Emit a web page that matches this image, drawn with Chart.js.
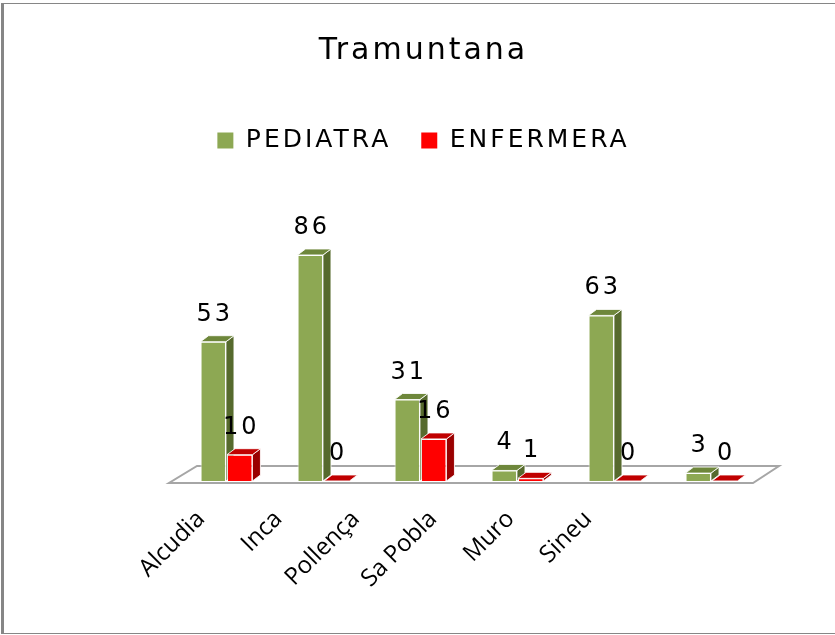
<!DOCTYPE html>
<html>
<head>
<meta charset="utf-8">
<script src="https://cdn.jsdelivr.net/npm/chart.js@4.4.0/dist/chart.umd.min.js"></script>
<style>
  html, body { margin: 0; padding: 0; background: #fff; }
  #wrap { position: relative; width: 835px; height: 635px; overflow: hidden; }
  #frame { position: absolute; left: 1px; top: 3px; width: 840px; height: 629px;
           border-left: 3px solid #868686; border-top: 1px solid #868686; border-bottom: 1px solid #868686;
           pointer-events: none; }
  canvas { position: absolute; left: 0; top: 0; }
</style>
</head>
<body>
<div id="wrap">
  <canvas id="chart" width="835" height="635"></canvas>
  <div id="frame"></div>
</div>
<script>
// data
const categories = ["Alcudia", "Inca", "Pollença", "Sa Pobla", "Muro", "Sineu"];
const pediatra = [53, 86, 31, 4, 63, 3];
const enfermera = [10, 0, 16, 1, 0, 0];
const seriesNames = ["PEDIATRA", "ENFERMERA"];

// look
const faces = [
  { front: "#8da853", top: "#6e873b", side: "#566a2d" },
  { front: "#ff0000", top: "#c00000", side: "#9a0000" },
];
const edgeColor = "rgba(255,255,255,0.85)";
const depth = { dx: 8, dy: -6 };
const textSpacing = "3px";

// floor + 3d faces + value labels
const bars3d = {
  id: "bars3d",
  beforeLayout(chart) {
    chart.ctx.letterSpacing = textSpacing;
  },
  beforeDraw(chart) {
    chart.ctx.letterSpacing = textSpacing;
  },
  beforeDatasetsDraw(chart) {
    const ctx = chart.ctx;
    const a = chart.chartArea;

    ctx.save();
    ctx.beginPath();
    ctx.moveTo(a.left - 9, a.bottom + 2);
    ctx.lineTo(a.right - 7, a.bottom + 2);
    ctx.lineTo(a.right + 19, a.bottom - 15);
    ctx.lineTo(a.left + 19, a.bottom - 15);
    ctx.closePath();
    ctx.fillStyle = "#fff";
    ctx.fill();
    ctx.strokeStyle = "#a6a6a6";
    ctx.lineWidth = 2;
    ctx.stroke();
    ctx.restore();

    chart.data.datasets.forEach((ds, di) => {
      const meta = chart.getDatasetMeta(di);
      const f = faces[di];
      meta.data.forEach((bar) => {
        const { x, y, base, width } = bar.getProps(["x", "y", "base", "width"], true);
        const l = x - width / 2;
        const r = x + width / 2;
        bar.draw(ctx);
        ctx.save();
        ctx.lineWidth = 1;
        ctx.strokeStyle = edgeColor;
        // side
        ctx.beginPath();
        ctx.moveTo(r, y);
        ctx.lineTo(r + depth.dx, y + depth.dy);
        ctx.lineTo(r + depth.dx, base + depth.dy);
        ctx.lineTo(r, base);
        ctx.closePath();
        ctx.fillStyle = f.side;
        ctx.fill();
        ctx.stroke();
        // top
        ctx.beginPath();
        ctx.moveTo(l, y);
        ctx.lineTo(l + depth.dx, y + depth.dy);
        ctx.lineTo(r + depth.dx, y + depth.dy);
        ctx.lineTo(r, y);
        ctx.closePath();
        ctx.fillStyle = f.top;
        ctx.fill();
        ctx.stroke();
        ctx.restore();
      });
    });

    // value labels
    ctx.save();
    ctx.font = '24px "DejaVu Sans"';
    ctx.fillStyle = "#000";
    ctx.textAlign = "center";
    ctx.textBaseline = "alphabetic";
    chart.data.datasets.forEach((ds, di) => {
      const meta = chart.getDatasetMeta(di);
      meta.data.forEach((bar, i) => {
        const { x, y } = bar.getProps(["x", "y"], true);
        ctx.fillText(String(ds.data[i]), x + 1.5, y - 21);
      });
    });
    ctx.restore();

    ctx.letterSpacing = "0px";
    return false;
  },
};

function drawChart() {
  new Chart(document.getElementById("chart"), {
    type: "bar",
    data: {
      labels: categories,
      datasets: [
        {
          label: seriesNames[0],
          data: pediatra,
          backgroundColor: faces[0].front,
          borderColor: edgeColor,
          borderWidth: 1,
        },
        {
          label: seriesNames[1],
          data: enfermera,
          backgroundColor: faces[1].front,
          borderColor: edgeColor,
          borderWidth: 1,
        },
      ],
    },
    options: {
      responsive: false,
      animation: false,
      events: [],
      layout: { padding: { left: 12, right: 0, top: 0, bottom: 18 } },
      datasets: { bar: { categoryPercentage: 0.546, barPercentage: 0.96 } },
      scales: {
        x: { display: false, offset: true },
        y: {
          display: true,
          min: 0,
          max: 121,
          grid: { display: false, drawTicks: false },
          border: { display: false },
          ticks: { display: false },
          afterFit(axis) {
            axis.width = 166;
          },
        },
        yr: {
          type: "linear",
          position: "right",
          display: true,
          grid: { display: false, drawTicks: false },
          border: { display: false },
          ticks: { display: false },
          afterFit(axis) {
            axis.width = 75;
          },
        },
        // label axis: the category names sit on a tighter spacing than the bars
        xl: {
          type: "linear",
          position: "bottom",
          bounds: "data",
          offset: false,
          min: -0.297,
          max: 7.222,
          grid: { display: false, drawTicks: false, offset: false },
          border: { display: false },
          afterBuildTicks(axis) {
            axis.ticks = categories.map((c, i) => ({ value: i }));
          },
          beforeUpdate(axis) {
            axis.chart.ctx.letterSpacing = "0px";
          },
          afterUpdate(axis) {
            axis.chart.ctx.letterSpacing = textSpacing;
          },
          ticks: {
            autoSkip: false,
            includeBounds: false,
            minRotation: 45,
            maxRotation: 45,
            padding: 24,
            z: 1,
            color: "#000",
            font: { family: '"Open Sans", "Liberation Sans", sans-serif', size: 24 },
            callback: (v) => categories[v],
          },
        },
      },
      plugins: {
        title: {
          display: true,
          text: "Tramuntana",
          color: "#000",
          font: { family: '"DejaVu Sans"', size: 30, weight: "normal" },
          padding: { top: 33, bottom: 29 },
        },
        legend: {
          position: "top",
          labels: {
            boxWidth: 16,
            boxHeight: 16,
            padding: 30,
            color: "#000",
            font: { family: '"DejaVu Sans"', size: 25 },
            generateLabels(chart) {
              return Chart.defaults.plugins.legend.labels
                .generateLabels(chart)
                .map((item) => Object.assign(item, { lineWidth: 0 }));
            },
          },
        },
        tooltip: { enabled: false },
      },
    },
    plugins: [bars3d],
  });
}

Promise.all([
  document.fonts.load('24px "Open Sans"'),
  document.fonts.load('24px "DejaVu Sans"'),
]).then(drawChart, drawChart);
</script>
</body>
</html>
